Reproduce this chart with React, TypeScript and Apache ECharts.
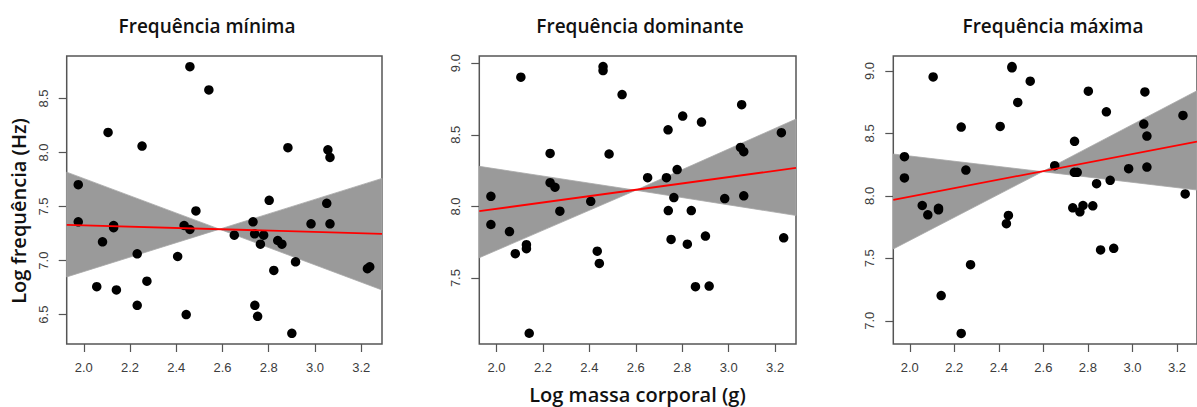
import React, { useEffect, useRef } from "react";
import * as echarts from "echarts";

// Log body mass (g), shared by the three panels
const massLog = [
  1.976, 1.976, 2.056, 2.081, 2.105, 2.129, 2.129, 2.141, 2.231, 2.231,
  2.252, 2.273, 2.406, 2.434, 2.443, 2.459, 2.459, 2.485, 2.541, 2.651,
  2.732, 2.739, 2.740, 2.752, 2.764, 2.778, 2.802, 2.822, 2.839, 2.857,
  2.883, 2.900, 2.916, 2.983, 3.051, 3.056, 3.065, 3.065, 3.227, 3.237,
];

// Log frequency (Hz)
const freqMin = [
  7.703, 7.359, 6.759, 7.174, 8.186, 7.325, 7.305, 6.728, 7.063, 6.586,
  8.060, 6.810, 7.038, 7.325, 6.500, 8.795, 7.288, 7.460, 8.580, 7.235,
  7.359, 7.248, 6.586, 6.484, 7.152, 7.235, 7.558, 6.909, 7.186, 7.152,
  8.045, 6.327, 6.989, 7.340, 7.530, 8.026, 7.955, 7.340, 6.925, 6.943,
];
const freqDom = [
  8.071, 7.874, 7.825, 7.670, 8.902, 7.733, 7.705, 7.115, 8.370, 8.166,
  8.134, 7.967, 8.036, 7.688, 7.602, 8.976, 8.948, 8.366, 8.781, 8.201,
  8.201, 8.535, 7.971, 7.770, 8.062, 8.257, 8.631, 7.737, 7.971, 7.440,
  8.589, 7.793, 7.444, 8.055, 8.412, 8.710, 8.382, 8.074, 8.515, 7.781,
];
const freqMax = [
  8.314, 8.144, 7.923, 7.848, 8.952, 7.901, 7.888, 7.202, 8.551, 6.899,
  8.207, 7.449, 8.556, 7.777, 7.843, 9.035, 9.025, 8.748, 8.918, 8.242,
  7.904, 8.189, 8.437, 8.189, 7.872, 7.923, 8.838, 7.920, 8.098, 7.567,
  8.673, 8.125, 7.580, 8.218, 8.575, 8.832, 8.231, 8.479, 8.644, 8.016,
];

const panelTitles = ["Frequência mínima", "Frequência dominante", "Frequência máxima"];
const yAxisTitle = "Log frequência (Hz)";
const xAxisTitle = "Log massa corporal (g)";

const xTicks = [2.0, 2.2, 2.4, 2.6, 2.8, 3.0, 3.2];
const yTicksMin = [6.5, 7.0, 7.5, 8.0, 8.5];
const yTicksDom = [7.5, 8.0, 8.5, 9.0];
const yTicksMax = [7.0, 7.5, 8.0, 8.5, 9.0];

const xRange = [1.926, 3.29];
const yRangeMin = [6.228, 8.894];
const yRangeDom = [7.04, 9.05];
const yRangeMax = [6.814, 9.12];

// fitted line end points [x, y]
const fitMin = [[1.926, 7.331], [3.29, 7.248]];
const fitDom = [[1.926, 7.967], [3.29, 8.269]];
const fitMax = [[1.926, 7.968], [3.29, 8.435]];

// band: [x, lineA, lineB] at left edge, crossing point, right edge
const bandMin = [[1.926, 7.819, 6.849], [2.587, 7.291, 7.291], [3.29, 6.728, 7.761]];
const bandDom = [[1.926, 8.28, 7.642], [2.6, 8.113, 8.113], [3.29, 7.937, 8.61]];
const bandMax = [[1.926, 8.335, 7.575], [2.596, 8.194, 8.194], [3.29, 8.047, 8.842]];

const panels = [
  { title: panelTitles[0], y: freqMin, yTicks: yTicksMin, yRange: yRangeMin, fit: fitMin, band: bandMin },
  { title: panelTitles[1], y: freqDom, yTicks: yTicksDom, yRange: yRangeDom, fit: fitDom, band: bandDom },
  { title: panelTitles[2], y: freqMax, yTicks: yTicksMax, yRange: yRangeMax, fit: fitMax, band: bandMax },
];

const gridBoxes = [
  { left: 66.7, top: 56, width: 315.3, height: 288 },
  { left: 479.3, top: 56, width: 316.7, height: 288 },
  { left: 893.3, top: 56, width: 316, height: 288 },
];
const titleCenters = [207, 640, 1053];

const TICK_FONT = "'Liberation Sans', Arial, sans-serif";
const TITLE_FONT = "'Open Sans', 'Noto Sans', sans-serif";

export default function App() {
  const ref = useRef<HTMLDivElement>(null);

  useEffect(() => {
    if (!ref.current) return;
    const chart = echarts.init(ref.current, null, { renderer: "svg" });

    const grid = gridBoxes.map((g) => ({
      ...g,
      show: true,
      borderColor: "#555",
      borderWidth: 1.5,
      backgroundColor: "transparent",
    }));

    const xAxis = panels.map((p, i) => ({
      type: "value",
      gridIndex: i,
      min: xRange[0],
      max: xRange[1],
      axisLine: { show: false },
      splitLine: { show: false },
      axisTick: {
        show: true,
        length: 8,
        customValues: xTicks,
        lineStyle: { color: "#555", width: 1.2 },
      },
      axisLabel: {
        customValues: xTicks,
        formatter: (v: number) => v.toFixed(1),
        margin: 17,
        color: "#3c3c3c",
        fontFamily: TICK_FONT,
        fontSize: 13,
      },
    }));

    const yAxis = panels.map((p, i) => ({
      type: "value",
      gridIndex: i,
      min: p.yRange[0],
      max: p.yRange[1],
      axisLine: { show: false },
      splitLine: { show: false },
      axisTick: {
        show: true,
        length: 8,
        customValues: p.yTicks,
        lineStyle: { color: "#555", width: 1.2 },
      },
      axisLabel: {
        customValues: p.yTicks,
        formatter: (v: number) => v.toFixed(1),
        rotate: 90,
        margin: 17,
        color: "#3c3c3c",
        fontFamily: TICK_FONT,
        fontSize: 13,
      },
    }));

    const series: any[] = [];
    panels.forEach((p, i) => {
      const band = p.band;
      series.push({
        type: "custom",
        xAxisIndex: i,
        yAxisIndex: i,
        clip: true,
        z: 1,
        silent: true,
        data: [[band[1][0], band[1][1]]],
        renderItem: (_params: any, api: any) => {
          const pts = [
            [band[0][0], band[0][1]],
            [band[1][0], band[1][1]],
            [band[2][0], band[2][1]],
            [band[2][0], band[2][2]],
            [band[1][0], band[1][2]],
            [band[0][0], band[0][2]],
          ].map((d) => api.coord(d));
          return {
            type: "polygon",
            shape: { points: pts },
            style: { fill: "#9a9a9a", stroke: "#a8a8a8", lineWidth: 0.8 },
          };
        },
      });
      series.push({
        type: "scatter",
        xAxisIndex: i,
        yAxisIndex: i,
        z: 2,
        symbol: "circle",
        symbolSize: 9.5,
        itemStyle: { color: "#000", opacity: 1 },
        data: massLog.map((x, k) => [x, p.y[k]]),
        clip: true,
      });
      series.push({
        type: "line",
        xAxisIndex: i,
        yAxisIndex: i,
        z: 3,
        symbol: "none",
        lineStyle: { color: "#ff0000", width: 1.8 },
        data: p.fit,
        clip: true,
      });
    });

    const graphic: any[] = [];
    panels.forEach((p, i) => {
      graphic.push({
        type: "text",
        x: titleCenters[i],
        y: 26,
        style: {
          text: p.title,
          textAlign: "center",
          textVerticalAlign: "middle",
          fontFamily: TITLE_FONT,
          fontWeight: 600,
          fontSize: 19,
          fill: "#111",
        },
      });
    });
    graphic.push({
      type: "text",
      x: 18.5,
      y: 211,
      rotation: Math.PI / 2,
      style: {
        text: yAxisTitle,
        textAlign: "center",
        textVerticalAlign: "middle",
        fontFamily: TITLE_FONT,
        fontWeight: 600,
        fontSize: 20,
        fill: "#111",
      },
    });
    graphic.push({
      type: "text",
      x: 637.5,
      y: 394,
      style: {
        text: xAxisTitle,
        textAlign: "center",
        textVerticalAlign: "middle",
        fontFamily: TITLE_FONT,
        fontWeight: 600,
        fontSize: 20,
        fill: "#111",
      },
    });

    chart.setOption({
      animation: false,
      backgroundColor: "#fff",
      grid,
      xAxis,
      yAxis,
      series,
      graphic,
    });

    return () => chart.dispose();
  }, []);

  return (
    <div
      ref={ref}
      style={{ position: "fixed", left: 0, top: 0, width: 1197, height: 407 }}
    />
  );
}
